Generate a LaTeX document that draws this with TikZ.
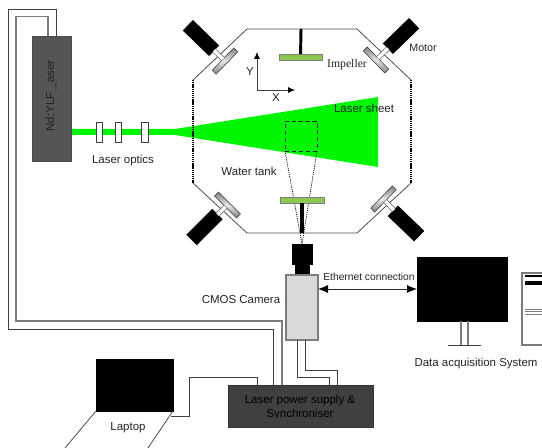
\documentclass[tikz,border=0pt]{standalone}
\usepackage{fontspec}
\setmainfont{Liberation Sans}
\newfontfamily\impfont{Liberation Serif}
\usetikzlibrary{arrows.meta,calc,positioning}
\definecolor{SheetGreen}{RGB}{0,245,0}
\definecolor{PaddleGreen}{RGB}{140,200,80}
\definecolor{LaserGrey}{RGB}{85,85,85}
\definecolor{SupplyGrey}{RGB}{64,64,64}
\definecolor{CameraGrey}{RGB}{217,217,217}
\definecolor{WireGrey}{RGB}{125,125,125}
\definecolor{LabelInk}{RGB}{35,35,35}
\def\px{.75pt}
\tikzset{
  sz/.style 2 args={minimum width=#1*\px,minimum height=#2*\px,inner sep=0pt,outer sep=0pt},
  blackbox/.style={draw=black,fill=black},
  lbl/.style={font=\fontsize{8.6}{10}\selectfont,text=LabelInk,inner sep=0pt},
  paddle/.style={draw=WireGrey,fill=PaddleGreen,line width=.6pt},
  lens/.style={draw=black!75,fill=white,line width=.5pt},
  disc/.style={draw=black!70,top color=black!50,bottom color=black!50,middle color=black!10,line width=.5pt},
  motorshaft/.style={double=white,draw=black!65,line width=.5pt,double distance=2.6pt},
  wire/.style={draw=black!75,line width=.55pt},
  wiregrey/.style={draw=WireGrey,line width=.9pt},
  viewline/.style={black,dash pattern=on .8pt off .8pt,line width=.55pt},
  tankside/.style={black,dash pattern=on 1pt off .6pt,line width=1pt},
  tankedge/.style={black!70,line width=.6pt},
  headtip/.style={-{Latex[black,length=5.2pt,width=4.5pt]},black!75,line width=.6pt},
}
\begin{document}
\begin{tikzpicture}[x=.75pt,y=-.75pt]
\useasboundingbox (0,0) rectangle (542,448);
% laser beam and sheet
\fill[SheetGreen] (71,129) -- (175,129) -- (378,97) -- (378,167) -- (175,135) -- (71,135) -- cycle;
\node[sz={39}{125},fill=LaserGrey,draw=black!70] (laser) at (51.5,98.5) {};
\node[lbl,rotate=90] (laserlabel) at (51,96) {Nd:YLF \_aser};
\node[sz={6}{20},lens] (optic1) at (99,132) {};
\node[sz={6}{20},lens] (optic2) at (118,132) {};
\node[sz={7}{20},lens] (optic3) at (144.5,132) {};
\node[lbl] (opticslabel) at (123,160.5) {Laser optics};
% tank walls
\draw[tankedge] (193,80) -- (247,29) -- (357,29) -- (411,80);
\draw[tankedge] (193,183) -- (247,233) -- (357,233) -- (411,183);
\draw[tankside] (193,80) -- (193,183);
\draw[tankside] (411,80) -- (411,183);
% measurement window and camera
\node[sz={32}{30},draw=black!85,dash pattern=on 3.2pt off 2pt,line width=.55pt] (window) at (301,136) {};
\node[sz={20}{20},blackbox] (lenstop) at (302,254) {};
\node[sz={14}{11},blackbox] (lensneck) at (302,269.5) {};
\node[sz={32}{65},draw=WireGrey,fill=CameraGrey,line width=.9pt] (camera) at (302,307.5) {};
\draw[viewline] (window.south west) -- (lenstop.north);
\draw[viewline] (window.south east) -- (lenstop.north);
% impellers
\node[sz={43}{6},paddle] (impellertop) at (300.5,57) {};
\coordinate (walltop) at (301,29);
\draw[black,line width=2.2pt] (walltop) -- (impellertop);
\node[sz={44}{6},paddle] (impellerbottom) at (302,200) {};
\coordinate (wallbottom) at (302,233);
\draw[black,line width=2.4pt] (wallbottom) -- (impellerbottom);
\node[font=\impfont\fontsize{8.8}{10}\selectfont,text=LabelInk,inner sep=0pt] (impellerlabel) at (347,65) {Impeller};
% motors
\node[sz={36}{14},blackbox,rotate=-44] (motorA) at (201,38) {};
\node[sz={31}{5.5},disc,rotate=46] (discA) at (225,61) {};
\draw[motorshaft] (motorA) -- (discA);
\node[sz={36}{14},blackbox,rotate=44] (motorB) at (401,36) {};
\node[sz={31}{5.5},disc,rotate=-46] (discB) at (376,60) {};
\draw[motorshaft] (motorB) -- (discB);
\node[sz={36}{14},blackbox,rotate=45] (motorC) at (204.5,227) {};
\node[sz={31}{5.5},disc,rotate=-45] (discC) at (227.5,205) {};
\draw[motorshaft] (motorC) -- (discC);
\node[sz={36}{14},blackbox,rotate=-44] (motorD) at (406,223.5) {};
\node[sz={31}{5.5},disc,rotate=46] (discD) at (383.5,199) {};
\draw[motorshaft] (motorD) -- (discD);
\node[lbl,font=\fontsize{8}{10}\selectfont] (motorlabel) at (423,48) {Motor};
% axes
\coordinate (origin) at (257,90);
\coordinate (ytip) at (257,52);
\coordinate (xtip) at (295,90);
\draw[headtip] (origin) -- (ytip);
\draw[headtip] (origin) -- (xtip);
\node[lbl] (ylabel) at (250,72) {Y};
\node[lbl] (xlabel) at (276,97.5) {X};
\node[lbl] (sheetlabel) at (364,108) {Laser sheet};
\node[lbl] (tanklabel) at (249,171) {Water tank};
\node[lbl] (cameralabel) at (241,300) {CMOS Camera};
% supply box, text cut off by its lower part
\node[sz={145}{42},fill=SupplyGrey,draw=black!80] (supply) at (300.5,406) {};
\begin{scope}
\clip (228,385) rectangle (373,417);
\node[lbl,text=black,align=center,font=\fontsize{8.6}{11}\selectfont] (supplylabel) at (300,407.5) {Laser power supply \&\\Synchroniser};
\end{scope}
% cables
\coordinate (supplyA) at (282,385);
\coordinate (supplyB) at (273,385);
\coordinate (laserA) at (48,36);
\coordinate (laserB) at (56,36);
\draw[wiregrey] (laserA) -- (48,16.5) -- (16,16.5) -- (16,321) -- (282,321) -- (supplyA);
\draw[wire] (laserB) -- (56,9) -- (8,9) -- (8,329) -- (273,329) -- (supplyB);
\coordinate (camoutA) at (297,340);
\coordinate (camoutB) at (305,340);
\coordinate (supplyC) at (329,385);
\coordinate (supplyD) at (337,385);
\draw[wire] (camoutA) -- (297,377) -- (329,377) -- (supplyC);
\draw[wire] (camoutB) -- (305,370) -- (337,370) -- (supplyD);
% laptop
\node[sz={77}{52},blackbox] (laptop) at (134.5,385) {};
\coordinate (keyleft) at (65,448);
\coordinate (keyright) at (148,448);
\draw[wire] (laptop.south west) -- (keyleft);
\draw[wire] (laptop.south east) -- (keyright);
\node[lbl] (laptoplabel) at (128,428) {Laptop};
\coordinate (laptopout) at (171,416);
\coordinate (supplyE) at (257,385);
\draw[wire] (laptopout) -- (189,416) -- (189,377) -- (257,377) -- (supplyE);
% data acquisition
\node[sz={90}{64},blackbox] (monitor) at (462,289) {};
\draw[black!85,line width=.6pt,{Latex[black,length=7.5pt,width=6pt]}-{Latex[black,length=7.5pt,width=6pt]}] (camera.east |- monitor.west) -- (monitor.west);
\node[lbl,font=\fontsize{7.7}{10}\selectfont] (ethernetlabel) at (369,277) {Ethernet connection};
\coordinate (standA) at (461,345);
\coordinate (standB) at (468,345);
\draw[wiregrey] (standA |- monitor.south) -- (standA);
\draw[wiregrey] (standB |- monitor.south) -- (standB);
\coordinate (baseleft) at (448,345);
\coordinate (baseright) at (481,345);
\draw[wire] (baseleft) -- (baseright);
\draw[wiregrey] (542,273) -- (522,273) -- (522,345) -- (542,345);
\fill[black] (525,275.5) rectangle (542,277.5);
\fill[black] (525,281) rectangle (542,285);
\draw[wiregrey,line width=.6pt] (525,309) -- (542,309);
\draw[wiregrey,line width=.6pt] (525,311.5) -- (542,311.5);
\draw[wiregrey,line width=.6pt] (525,314) -- (542,314);
\node[lbl] (dataslabel) at (476,364) {Data acquisition System};
\end{tikzpicture}
\end{document}
